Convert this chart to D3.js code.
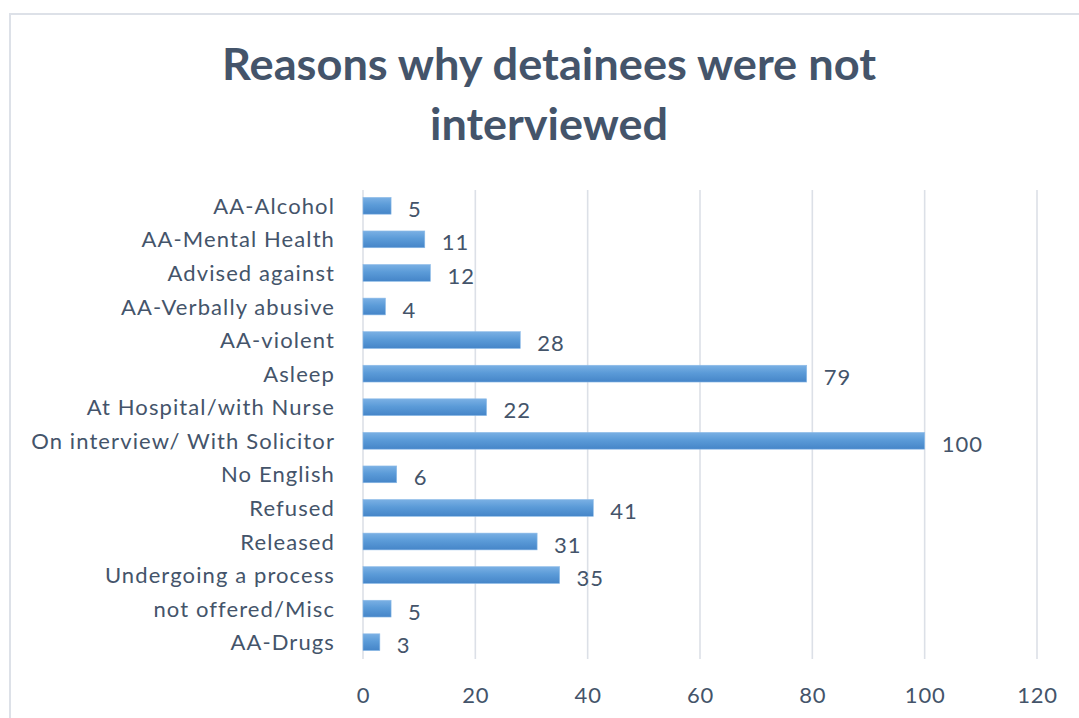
<!DOCTYPE html>
<html>
<head>
<meta charset="utf-8">
<script src="https://cdn.jsdelivr.net/npm/d3@7"></script>
<style>
  html, body { margin: 0; padding: 0; background: #fff; }
  svg { display: block; }
</style>
</head>
<body>
<svg id="chart" width="1079" height="718"></svg>
<script>
// Reasons a detainee was not interviewed, with counts
const categories = [
  "AA-Alcohol",
  "AA-Mental Health",
  "Advised against",
  "AA-Verbally abusive",
  "AA-violent",
  "Asleep",
  "At Hospital/with Nurse",
  "On interview/ With Solicitor",
  "No English",
  "Refused",
  "Released",
  "Undergoing a process",
  "not offered/Misc",
  "AA-Drugs"
];
const counts = [5, 11, 12, 4, 28, 79, 22, 100, 6, 41, 31, 35, 5, 3];
const xTicks = [0, 20, 40, 60, 80, 100, 120];
const titleLines = ["Reasons why detainees were not", "interviewed"];

const svg = d3.select("#chart");
const W = 1079, H = 718;
const textColor = "#44546a";
const labelFont = "Lato, 'Open Sans', sans-serif";

// Outer chart frame (runs off the right and bottom edges)
svg.append("rect")
  .attr("x", 10).attr("y", 14)
  .attr("width", W + 20).attr("height", H + 20)
  .attr("fill", "#fff")
  .attr("stroke", "#dde1e8")
  .attr("stroke-width", 2);

// Title
const title = svg.append("text")
  .attr("text-anchor", "middle")
  .attr("font-family", "Lato, 'Open Sans', sans-serif")
  .attr("font-weight", 700)
  .attr("font-size", 44)
  .attr("fill", textColor);
title.append("tspan")
  .attr("x", 549).attr("y", 80)
  .attr("textLength", 654).attr("lengthAdjust", "spacingAndGlyphs")
  .text(titleLines[0]);
title.append("tspan")
  .attr("x", 549).attr("y", 140)
  .attr("textLength", 238).attr("lengthAdjust", "spacingAndGlyphs")
  .text(titleLines[1]);

// Scales
const x = d3.scaleLinear().domain([0, 120]).range([363, 1037]);
const y = d3.scaleBand().domain(categories).range([189, 659]).paddingInner(0.5).paddingOuter(0.25);
const mid = d => y(d) + y.bandwidth() / 2;

// Vertical gridlines
svg.append("g")
  .selectAll("line")
  .data(xTicks)
  .join("line")
  .attr("x1", d => x(d)).attr("x2", d => x(d))
  .attr("y1", 190).attr("y2", 659)
  .attr("stroke", "#dce0e7")
  .attr("stroke-width", 1.6);

// Bar gradient
const defs = svg.append("defs");
const grad = defs.append("linearGradient")
  .attr("id", "barGrad")
  .attr("x1", 0).attr("y1", 0).attr("x2", 0).attr("y2", 1);
grad.append("stop").attr("offset", "0%").attr("stop-color", "#7ab0e4");
grad.append("stop").attr("offset", "45%").attr("stop-color", "#5b9bd8");
grad.append("stop").attr("offset", "100%").attr("stop-color", "#4585c8");

// Bars
svg.append("g")
  .selectAll("rect")
  .data(categories)
  .join("rect")
  .attr("x", x(0))
  .attr("y", d => y(d))
  .attr("width", (d, i) => x(counts[i]) - x(0))
  .attr("height", y.bandwidth())
  .attr("fill", "url(#barGrad)")
  .attr("stroke", "#8dbbe8")
  .attr("stroke-width", 0.6);

// Value labels
svg.append("g")
  .selectAll("text")
  .data(categories)
  .join("text")
  .attr("x", (d, i) => x(counts[i]) + 17)
  .attr("y", d => mid(d) + 11)
  .attr("font-family", labelFont)
  .attr("font-size", 22)
  .attr("letter-spacing", 1)
  .attr("fill", textColor)
  .text((d, i) => counts[i]);

// Category axis labels
svg.append("g")
  .selectAll("text")
  .data(categories)
  .join("text")
  .attr("x", 335)
  .attr("y", d => mid(d) + 8)
  .attr("text-anchor", "end")
  .attr("font-family", labelFont)
  .attr("font-size", 22)
  .attr("letter-spacing", 1.1)
  .attr("fill", textColor)
  .text(d => d);

// X axis tick labels
const xAxis = d3.axisBottom(x).tickValues(xTicks).tickSize(0).tickPadding(0);
const gx = svg.append("g").call(xAxis);
gx.select(".domain").remove();
gx.selectAll("text")
  .attr("y", 703)
  .attr("dy", 0)
  .attr("font-family", labelFont)
  .attr("font-size", 22)
  .attr("letter-spacing", 0.8)
  .attr("fill", textColor);
</script>
</body>
</html>
